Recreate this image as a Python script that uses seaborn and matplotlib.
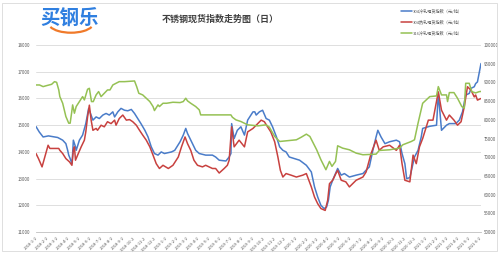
import matplotlib
matplotlib.use("Agg")
import matplotlib.pyplot as plt
from matplotlib.patches import Rectangle, Arc
import seaborn as sns
import pandas as pd

# ---------------- data ----------------
blue_label = "304冷轧现货指数（元/吨）"
red_label = "304热轧现货指数（元/吨）"
green_label = "316冷轧现货指数（元/吨）"

blue_dates = ["2018-01-02","2018-01-11","2018-01-22","2018-02-06","2018-03-04","2018-03-18","2018-03-27",
"2018-04-01","2018-04-04","2018-04-08","2018-04-11","2018-04-13","2018-04-15","2018-04-17","2018-04-23",
"2018-04-25","2018-05-04","2018-05-13","2018-05-22","2018-05-30","2018-06-06","2018-06-11","2018-06-20",
"2018-06-29","2018-07-09","2018-07-18","2018-07-27","2018-08-06","2018-08-11","2018-08-20","2018-08-29",
"2018-09-08","2018-09-17","2018-09-27","2018-10-06","2018-10-15","2018-10-24","2018-11-04","2018-11-13",
"2018-11-22","2018-12-01","2018-12-11","2018-12-20","2018-12-29","2019-01-18","2019-01-27","2019-02-11",
"2019-02-20","2019-02-27","2019-03-04","2019-03-13","2019-03-27","2019-04-06","2019-04-24","2019-05-13",
"2019-05-22","2019-06-01","2019-06-20","2019-06-29","2019-07-04","2019-07-06","2019-07-13","2019-07-22",
"2019-08-01","2019-08-11","2019-08-20","2019-09-04","2019-09-09","2019-09-13","2019-09-22","2019-10-01",
"2019-10-11","2019-10-20","2019-10-29","2019-11-09","2019-11-18","2019-11-27","2019-12-06","2019-12-15",
"2019-12-29","2020-01-13","2020-02-01","2020-02-15","2020-02-24","2020-03-04","2020-03-13","2020-03-22",
"2020-03-29","2020-04-03","2020-04-08","2020-04-15","2020-04-29","2020-05-09","2020-05-18","2020-06-01",
"2020-06-20","2020-07-09","2020-07-27","2020-08-06","2020-08-15","2020-08-20","2020-08-29","2020-09-09",
"2020-09-22","2020-10-11","2020-10-20","2020-10-27","2020-11-04","2020-11-09","2020-11-18","2020-12-01",
"2020-12-11","2020-12-20","2020-12-24","2021-01-13","2021-02-01","2021-02-06","2021-02-15","2021-03-01",
"2021-03-09","2021-03-27","2021-04-06","2021-04-15","2021-04-24","2021-05-04","2021-05-09","2021-05-18",
"2021-05-22","2021-05-27","2021-06-06"]
blue_values = [14950,14750,14560,14600,14540,14440,14310,
14060,13880,13750,13630,13560,13940,14440,14190,
14060,14440,14630,15060,15630,15380,15190,15310,
15250,15380,15440,15380,15500,15310,15500,15630,
15560,15540,15590,15440,15250,15060,14810,14560,
14190,13940,13880,14000,13940,14000,14060,14380,
14630,14880,14690,14440,14060,13940,13880,13880,
13810,13690,13660,13810,13940,15060,14500,14810,
14940,14630,15190,15500,15500,15380,15500,15560,
15250,15190,14940,14560,14190,14060,14000,13810,
13750,13690,13500,13250,12690,12310,12000,11880,
11940,12190,12690,12940,13380,13130,13190,13060,
13130,13190,13440,14060,14560,14810,14560,14310,
14380,14440,14380,13940,13560,13000,13040,13810,
14060,14560,14880,14960,15000,16190,14810,15000,
15060,15060,15190,15500,16130,16190,16380,16440,
16560,16620,17310]

red_dates = ["2018-01-02","2018-01-09","2018-01-19","2018-02-05","2018-02-10","2018-03-07","2018-03-10",
"2018-03-18","2018-03-27","2018-04-06","2018-04-13","2018-04-17","2018-04-20","2018-04-23","2018-04-29",
"2018-05-09","2018-05-18","2018-05-22","2018-05-27","2018-06-01","2018-06-06","2018-06-11","2018-06-20",
"2018-06-24","2018-07-04","2018-07-13","2018-07-22","2018-08-01","2018-08-11","2018-08-15","2018-08-24",
"2018-09-03","2018-09-13","2018-09-22","2018-10-01","2018-10-11","2018-10-20","2018-10-29","2018-11-08",
"2018-11-18","2018-11-27","2018-12-06","2018-12-15","2018-12-25","2019-01-09","2019-01-22","2019-02-06",
"2019-02-15","2019-02-25","2019-03-04","2019-03-13","2019-03-22","2019-04-01","2019-04-15","2019-04-24",
"2019-05-13","2019-05-22","2019-06-01","2019-06-15","2019-06-24","2019-06-29","2019-07-06","2019-07-13",
"2019-07-27","2019-08-11","2019-08-20","2019-09-04","2019-09-13","2019-09-27","2019-10-06","2019-10-15",
"2019-10-24","2019-11-04","2019-11-13","2019-11-20","2019-11-27","2019-12-06","2019-12-20","2020-01-04",
"2020-01-22","2020-02-01","2020-02-15","2020-02-24","2020-03-04","2020-03-13","2020-03-25","2020-04-01",
"2020-04-06","2020-04-15","2020-04-24","2020-04-29","2020-05-09","2020-05-22","2020-06-01","2020-06-20",
"2020-07-09","2020-07-18","2020-08-01","2020-08-15","2020-08-24","2020-09-04","2020-09-22","2020-10-11",
"2020-10-20","2020-10-27","2020-11-04","2020-11-18","2020-11-27","2020-12-06","2020-12-15","2020-12-24",
"2021-01-09","2021-01-22","2021-02-06","2021-02-15","2021-03-01","2021-03-09","2021-03-22","2021-04-01",
"2021-04-11","2021-04-20","2021-04-29","2021-05-09","2021-05-18","2021-05-22","2021-05-27","2021-06-06"]
red_values = [13940,13750,13440,14250,14130,14130,14060,
13940,13750,13630,13500,14060,14190,13690,13880,
14190,14440,14750,15310,15750,15190,14810,14880,
14810,15000,14940,15130,15060,15190,15000,15250,
15380,15190,15210,15130,15000,14810,14630,14440,
14190,13880,13560,13380,13500,13380,13500,13810,
14190,14560,14310,14060,13690,13500,13440,13500,
13380,13380,13210,13380,13500,13690,14940,14190,
14440,14190,14750,14880,15000,15190,15130,14940,
14750,14380,13810,13310,13060,13190,13130,13060,
13130,13190,12690,12310,12060,11880,11810,12190,
12810,12940,13190,13310,12940,12880,12690,12940,
13060,13250,13940,14440,14060,14190,14250,14060,
14250,13560,12940,12880,13880,13560,14190,14500,
15190,15190,16250,15560,15190,15380,15190,15000,
15130,15690,16440,16310,16060,16130,15940,16000]

green_dates = ["2018-01-02","2018-01-12","2018-01-22","2018-02-01","2018-02-15","2018-02-23","2018-03-01",
"2018-03-07","2018-03-10","2018-03-18","2018-03-27","2018-04-04","2018-04-08","2018-04-12","2018-04-15",
"2018-04-20","2018-04-25","2018-05-04","2018-05-13","2018-05-18","2018-05-27","2018-06-01","2018-06-07",
"2018-06-12","2018-06-20","2018-06-27","2018-07-04","2018-07-13","2018-07-22","2018-07-29","2018-08-06",
"2018-08-15","2018-08-24","2018-09-08","2018-10-06","2018-10-12","2018-10-18","2018-10-29","2018-11-08",
"2018-11-18","2018-11-27","2018-12-01","2018-12-11","2018-12-15","2018-12-25","2019-01-04","2019-01-22",
"2019-02-11","2019-02-20","2019-02-27","2019-03-04","2019-03-13","2019-03-27","2019-04-06","2019-04-10",
"2019-07-04","2019-07-08","2019-07-18","2019-08-01","2019-08-20","2019-09-18","2019-10-11","2019-10-20",
"2019-11-04","2019-11-18","2020-01-04","2020-01-18","2020-02-01","2020-02-11","2020-03-01","2020-03-13",
"2020-03-27","2020-04-06","2020-04-13","2020-04-23","2020-04-29","2020-05-13","2020-06-01","2020-06-20",
"2020-07-09","2020-08-15","2020-08-24","2020-09-22","2020-10-20","2020-10-29","2020-11-22","2020-12-01",
"2020-12-11","2020-12-24","2021-01-13","2021-02-01","2021-02-06","2021-02-15","2021-03-01","2021-03-04",
"2021-03-09","2021-03-22","2021-04-01","2021-04-13","2021-04-20","2021-04-24","2021-05-04","2021-05-11",
"2021-05-22","2021-06-01","2021-06-06"]
green_values = [89330,89330,88890,89160,89510,90220,90040,
88000,86220,84440,80890,79110,79110,81780,84000,
81780,83560,84890,86220,85330,88180,88440,84890,
84890,86670,87560,86220,87110,88000,88000,89330,
89780,90220,90220,90400,88890,87110,86670,85780,
84890,83560,82490,84000,83560,84440,84440,84710,
84620,84890,85780,85070,84440,83560,82670,81330,
81330,80710,80000,79560,78670,78400,78670,78040,
75560,74220,74670,75380,76180,75560,72000,69330,
66670,68890,67560,68890,73070,72440,72000,71110,
70670,70840,71820,72000,72440,73330,74220,74670,
79110,84440,86220,86400,88890,86670,86670,84890,
87290,87290,85780,83560,83110,89780,89780,87560,
87200,87550,87600]

title = "不锈钢现货指数走势图（日）"
logo_text = "买钢乐"
left_ticks = [11000, 12000, 13000, 14000, 15000, 16000, 17000, 18000]
right_ticks = [50000, 55000, 60000, 65000, 70000, 75000, 80000, 85000, 90000, 95000, 100000]

blue_df = pd.DataFrame({"date": pd.to_datetime(blue_dates), "value": blue_values})
red_df = pd.DataFrame({"date": pd.to_datetime(red_dates), "value": red_values})
green_df = pd.DataFrame({"date": pd.to_datetime(green_dates), "value": green_values})

# ---------------- style ----------------
sns.set_theme(style="white")
plt.rcParams["font.family"] = ["Noto Sans CJK SC", "DejaVu Sans"]

C_BLUE = "#4A7CC9"
C_RED = "#C8413F"
C_GREEN = "#95C154"
GRID = "#D9D9D9"
TXT = "#595959"

fig = plt.figure(figsize=(5.0, 2.59), dpi=100)
fig.patch.set_facecolor("white")
ax = fig.add_axes([0.072, 0.104, 0.890, 0.722])
ax2 = ax.twinx()

sns.lineplot(data=blue_df, x="date", y="value", ax=ax, color=C_BLUE, lw=1.1, label=blue_label, legend=False)
sns.lineplot(data=red_df, x="date", y="value", ax=ax, color=C_RED, lw=1.1, label=red_label, legend=False)
sns.lineplot(data=green_df, x="date", y="value", ax=ax2, color=C_GREEN, lw=1.1, label=green_label, legend=False)

ax.set_ylim(11000, 18000)
ax.set_yticks(left_ticks)
ax.set_yticklabels([str(t) for t in left_ticks], fontsize=3.2, color=TXT)
ax2.set_ylim(50000, 100000)
ax2.set_yticks(right_ticks)
ax2.set_yticklabels([str(t) for t in right_ticks], fontsize=3.2, color=TXT)

ax.set_xlim(pd.Timestamp("2018-01-02"), pd.Timestamp("2021-06-06"))
xt = pd.date_range("2018-01-02", periods=42, freq=pd.DateOffset(months=1))
ax.set_xticks(xt)
ax.set_xticklabels([f"{d.year}-{d.month}-{d.day}" for d in xt], rotation=45, ha="right",
                   rotation_mode="anchor", fontsize=3.0, color=TXT)

ax.grid(axis="y", color=GRID, lw=0.6)
ax.set_axisbelow(True)
for a in (ax, ax2):
    for s in a.spines.values():
        s.set_visible(False)
    a.set_xlabel("")
    a.set_ylabel("")
ax.spines["bottom"].set_visible(True)
ax.spines["bottom"].set_color("#BFBFBF")
ax.spines["bottom"].set_linewidth(0.6)
ax.tick_params(axis="x", length=2, width=0.5, color="#BFBFBF", pad=1)
ax.tick_params(axis="y", length=0, pad=4)
ax2.tick_params(axis="y", length=0, pad=2)

# legend
h1, l1 = ax.get_legend_handles_labels()
h2, l2 = ax2.get_legend_handles_labels()
leg = ax2.legend(h1 + h2, l1 + l2, loc="upper left", bbox_to_anchor=(0.816, 1.205),
                 frameon=False, fontsize=3.0, handlelength=2.6, handletextpad=0.2,
                 labelspacing=1.5, borderaxespad=0)
for t in leg.get_texts():
    t.set_color(TXT)

# title
fig.text(0.44, 0.925, title, ha="center", va="center", fontsize=6.5,
         fontweight="bold", color="#404040")

# logo
fig.text(0.140, 0.928, logo_text, ha="center", va="center", fontsize=14,
         fontweight="bold", color="#2F7FE0")
fig.patches.append(Arc((71 / 500, 1 - 23 / 259), 0.09, 0.075, theta1=200, theta2=340,
                       transform=fig.transFigure, color="#F07A2A", lw=1.6))

# chart border
fig.patches.append(Rectangle((0.004, 0.031), 0.990, 0.957, transform=fig.transFigure,
                             fill=False, edgecolor="#D9D9D9", lw=0.6))

fig.savefig("out.png", dpi=100, facecolor="white")
